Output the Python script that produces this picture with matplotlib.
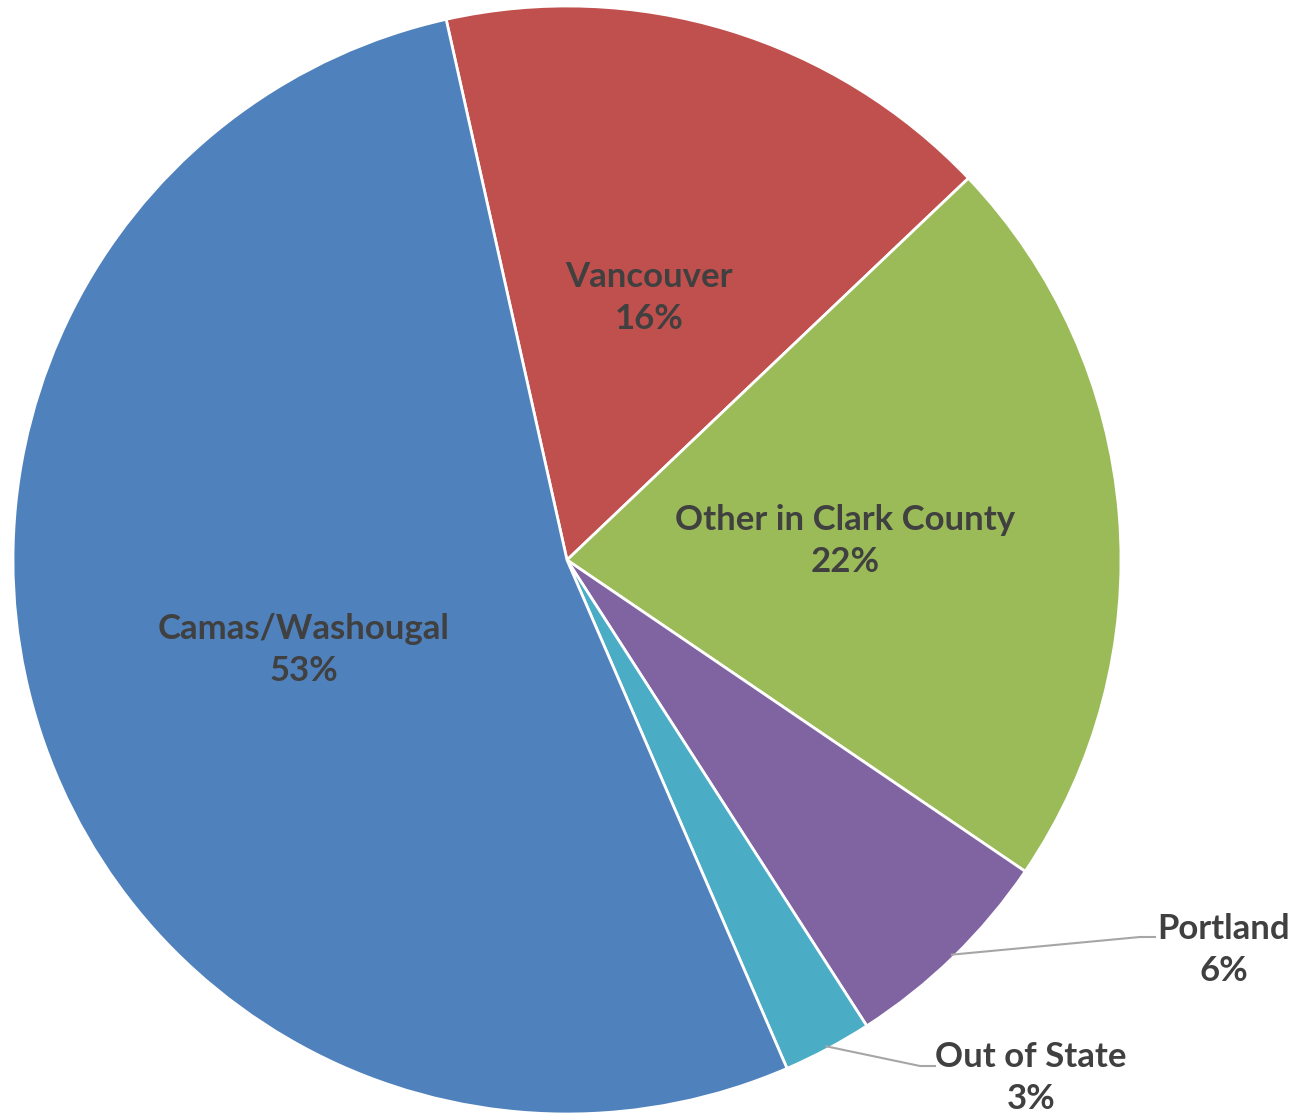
import numpy as np
import matplotlib.pyplot as plt

# share of responses by location
places = ["Vancouver", "Other in Clark County", "Portland", "Out of State", "Camas/Washougal"]
shares = [16.4, 21.6, 6.4, 2.6, 53.0]
colors = ["#C0504D", "#9BBB59", "#8064A2", "#4BACC6", "#4F81BD"]

W, H = 1301, 1118
fig = plt.figure(figsize=(W / 100, H / 100), dpi=100)
ax = fig.add_axes([0, 0, 1, 1])

cx, cy, r = 567, H - 560, 554
wedges, _ = ax.pie(shares, colors=colors, startangle=102.6, counterclock=False,
                   center=(cx, cy), radius=r,
                   wedgeprops=dict(edgecolor="white", linewidth=2))
ax.set_xlim(0, W)
ax.set_ylim(0, H)
ax.set_aspect("equal")
ax.axis("off")

txt = dict(fontsize=25, fontweight="bold", color="#404040", family=["Lato", "DejaVu Sans"],
           ha="center", va="center", linespacing=1.4)

# label centres (pixels from top-left)
label_pos = [(649, 298), (845, 541), (1224, 950), (1031, 1078), (304, 650)]
for name, val, (x, y) in zip(places, shares, label_pos):
    ax.text(x, H - y, f"{name}\n{round(val)}%", **txt)

# leader lines for the two small slices
for wi, (x1, y1), (x2, y2) in [(2, (1140, 937), (1155, 937)), (3, (920, 1066), (935, 1066))]:
    w = wedges[wi]
    mid = np.deg2rad((w.theta1 + w.theta2) / 2)
    sx = cx + r * 0.995 * np.cos(mid)
    sy = cy + r * 0.995 * np.sin(mid)
    ax.plot([sx, x1, x2], [sy, H - y1, H - y2], color="#A6A6A6", lw=1.5)

fig.savefig("out.png", dpi=100)
